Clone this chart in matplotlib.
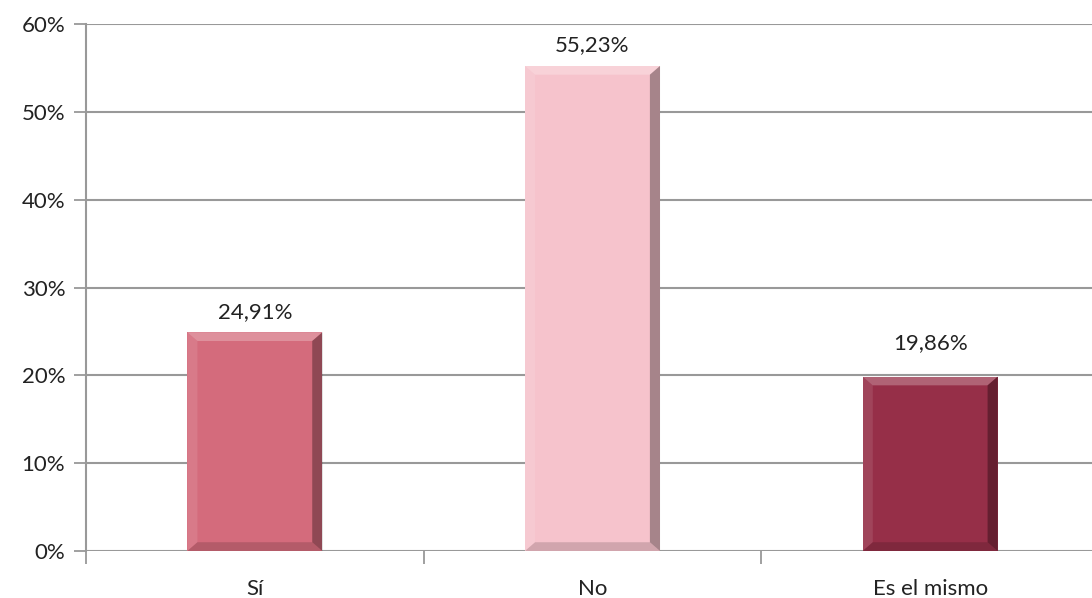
import matplotlib
matplotlib.use("Agg")
import matplotlib.pyplot as plt
import numpy as np
from matplotlib.patches import Polygon

categories = ["Sí", "No", "Es el mismo"]
values = [24.91, 55.23, 19.86]
labels = ["24,91%", "55,23%", "19,86%"]
colors = ["#d46b7c", "#f6c3cc", "#962f48"]
yticks = [0, 10, 20, 30, 40, 50, 60]

plt.rcParams['font.family'] = ['Lato', 'DejaVu Sans']

W, H = 1092, 598
fig = plt.figure(figsize=(W / 100, H / 100), dpi=100)
ax = fig.add_axes([86 / W, 1 - 551 / H, (1099 - 86) / W, (551 - 24) / H])

x = np.arange(len(categories))
bw = 0.40
bars = ax.bar(x, values, width=bw, color=colors, zorder=3, edgecolor="none")

# bevel decoration derived from bar geometry
for b, c in zip(bars, colors):
    x0, x1 = b.get_x(), b.get_x() + b.get_width()
    h = b.get_height()
    dx = 0.03
    dy = 1.0
    ax.add_patch(Polygon([[x0, h], [x1, h], [x1 - dx, h - dy], [x0 + dx, h - dy]],
                         closed=True, facecolor="white", alpha=0.25, zorder=4, lw=0))
    ax.add_patch(Polygon([[x0, 0], [x0, h], [x0 + dx, h - dy], [x0 + dx, dy]],
                         closed=True, facecolor="white", alpha=0.10, zorder=4, lw=0))
    ax.add_patch(Polygon([[x1, 0], [x1, h], [x1 - dx, h - dy], [x1 - dx, dy]],
                         closed=True, facecolor="black", alpha=0.32, zorder=4, lw=0))
    ax.add_patch(Polygon([[x0, 0], [x1, 0], [x1 - dx, dy], [x0 + dx, dy]],
                         closed=True, facecolor="black", alpha=0.15, zorder=4, lw=0))

label_pad = [1.2, 1.2, 2.7]
for xi, v, lab, p in zip(x, values, labels, label_pad):
    ax.text(xi, v + p, lab, ha="center", va="bottom", fontsize=16, color="#222222", zorder=5)

ax.set_xlim(-0.5, len(categories) - 0.5)
ax.set_ylim(0, 60)
ax.set_yticks(yticks)
ax.set_yticklabels([f"{t}%" for t in yticks], fontsize=16, color="#222222")
ax.set_xticks(x)
ax.set_xticklabels(categories, fontsize=16, color="#222222")
ax.tick_params(axis="x", length=0, pad=20)
ax.set_xticks(np.arange(len(categories) + 1) - 0.5, minor=True)
ax.tick_params(axis="x", which="minor", length=9, width=1.3, color="#999999")
ax.tick_params(axis="y", length=9, width=1.3, color="#999999", pad=6)

ax.grid(axis="y", color="#999999", linewidth=1.5, zorder=1)
ax.set_axisbelow(True)
for s in ["top", "right", "bottom"]:
    ax.spines[s].set_visible(False)
ax.spines["left"].set_color("#999999")
ax.spines["left"].set_linewidth(1.5)
ax.patch.set_alpha(0)

fig.savefig("out.png", dpi=100)
